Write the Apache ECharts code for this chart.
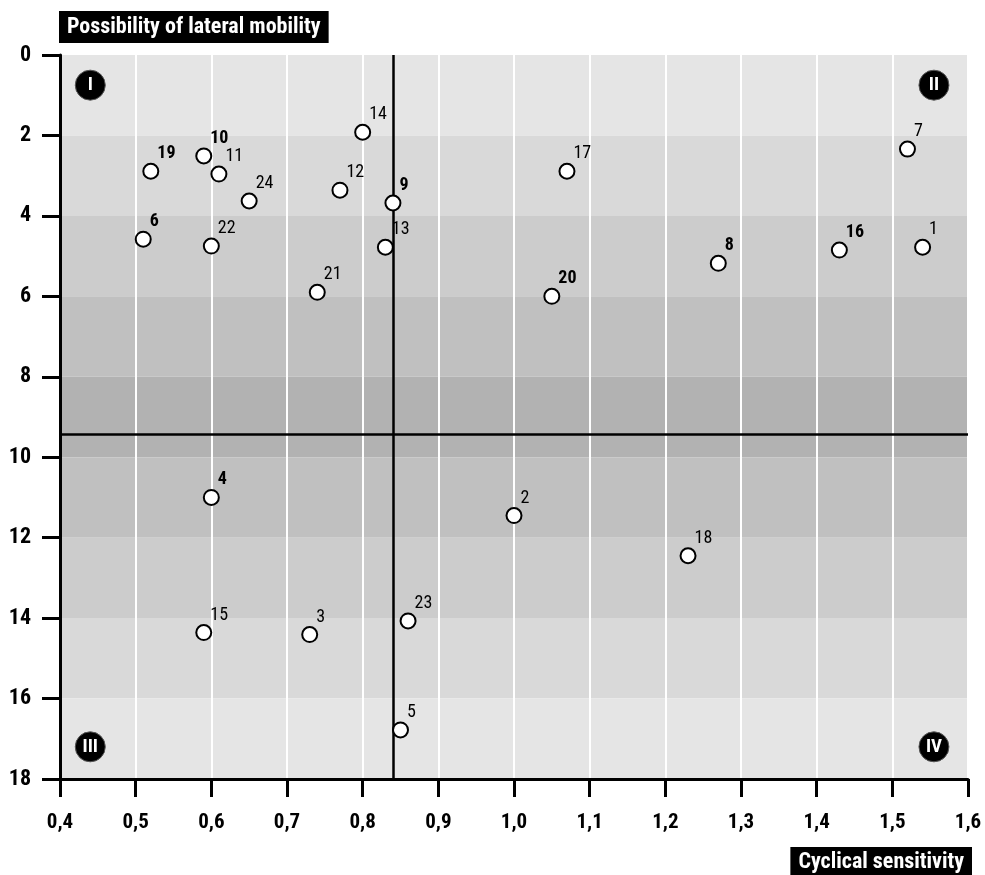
<!DOCTYPE html>
<html>
<head>
<meta charset="utf-8">
<script src="https://cdn.jsdelivr.net/npm/echarts@6/dist/echarts.min.js"></script>
<style>
html,body{margin:0;padding:0;background:#fff;}
#chart{width:985px;height:875px;}
</style>
</head>
<body>
<div id="chart"></div>
<script>
// ---- data ----
const ids = ['1','2','3','4','5','6','7','8','9','10','11','12','13','14','15','16','17','18','19','20','21','22','23','24'];
const cyclical = [1.54, 1.00, 0.73, 0.60, 0.85, 0.51, 1.52, 1.27, 0.84, 0.59, 0.61, 0.77, 0.83, 0.80, 0.59, 1.43, 1.07, 1.23, 0.52, 1.05, 0.74, 0.60, 0.86, 0.65];
const lateral  = [4.78, 11.45, 14.41, 11.0, 16.78, 4.58, 2.34, 5.18, 3.68, 2.51, 2.96, 3.36, 4.78, 1.92, 14.36, 4.85, 2.89, 12.45, 2.89, 6.0, 5.9, 4.75, 14.07, 3.63];
const bandEdges = [0, 2, 4, 6, 8, 10, 12, 14, 16, 18];
const quadrantNames = ['I', 'II', 'III', 'IV'];
const quadrantX = [0.44, 1.555, 0.44, 1.555];
const quadrantY = [0.75, 0.75, 17.2, 17.2];
const medianX = 0.84;
const medianY = 9.43;
const xTicks = ['0,4','0,5','0,6','0,7','0,8','0,9','1,0','1,1','1,2','1,3','1,4','1,5','1,6'];
const yTicks = ['0','2','4','6','8','10','12','14','16','18'];

// ---- styles ----
const FONT = '"Roboto Condensed", "Liberation Sans Narrow", "DejaVu Sans Condensed", sans-serif';
const bandColors = ['#e5e5e5','#d9d9d9','#cccccc','#c0c0c0','#b2b2b2','#c0c0c0','#cccccc','#d9d9d9','#e5e5e5'];
const boldIds = new Set(['4','6','8','9','10','16','19','20']);

const bands = [];
for (let i = 0; i < bandEdges.length - 1; i++) {
  bands.push([{ yAxis: bandEdges[i], itemStyle: { color: bandColors[i], opacity: 1 } }, { yAxis: bandEdges[i + 1] }]);
}

const points = ids.map((id, i) => ({
  value: [cyclical[i], lateral[i]],
  name: id,
  label: { fontWeight: boldIds.has(id) ? 'bold' : 'normal' }
}));

const quads = quadrantNames.map((n, i) => ({ value: [quadrantX[i], quadrantY[i]], name: n }));

const chart = echarts.init(document.getElementById('chart'));
chart.setOption({
  animation: false,
  backgroundColor: '#fff',
  textStyle: { fontFamily: FONT },
  title: [
    {
      text: 'Possibility of lateral mobility',
      left: 59, top: 11,
      backgroundColor: '#000',
      padding: [5, 8, 5, 8],
      textStyle: { color: '#fff', fontFamily: FONT, fontWeight: 'bold', fontSize: 22, lineHeight: 22 }
    },
    {
      text: 'Cyclical sensitivity',
      right: 13, top: 847,
      backgroundColor: '#000',
      padding: [4, 8, 6, 8],
      textStyle: { color: '#fff', fontFamily: FONT, fontWeight: 'bold', fontSize: 22, lineHeight: 22 }
    }
  ],
  grid: { left: 60, right: 17, top: 55, bottom: 96, containLabel: false },
  xAxis: {
    type: 'value', min: 0.4, max: 1.6, interval: 0.1, z: 1.5,
    axisLine: { show: true, onZero: false, lineStyle: { color: '#000', width: 3 } },
    axisTick: { show: true, inside: false, length: 18, lineStyle: { color: '#000', width: 3 } },
    splitLine: { show: true, lineStyle: { color: '#fff', width: 2 } },
    axisLabel: {
      margin: 33, color: '#000', fontFamily: FONT, fontWeight: 'bold', fontSize: 21,
      formatter: (v) => xTicks[Math.round((v - 0.4) * 10)]
    }
  },
  yAxis: {
    type: 'value', inverse: true, min: 0, max: 18, interval: 2, z: 1.5,
    axisLine: { show: true, onZero: false, lineStyle: { color: '#000', width: 3 } },
    axisTick: { show: true, inside: false, length: 18, lineStyle: { color: '#000', width: 3 } },
    splitLine: { show: false },
    axisLabel: {
      margin: 29, color: '#000', fontFamily: FONT, fontWeight: 'bold', fontSize: 22,
      formatter: (v) => yTicks[Math.round(v / 2)]
    }
  },
  series: [
    {
      type: 'scatter', z: 1, silent: true, data: [],
      markArea: { silent: true, data: bands }
    },
    {
      type: 'scatter', z: 3, silent: true, data: [],
      markLine: {
        silent: true, symbol: 'none', label: { show: false },
        lineStyle: { color: '#000', width: 2.5, type: 'solid', opacity: 1 },
        data: [{ xAxis: medianX }, { yAxis: medianY }]
      }
    },
    {
      type: 'scatter', z: 5, data: points,
      symbol: 'circle', symbolSize: 15,
      itemStyle: { color: '#fff', borderColor: '#000', borderWidth: 2, opacity: 1 },
      label: {
        show: true, formatter: '{b}', position: [15, -18],
        color: '#000', fontFamily: FONT, fontSize: 18
      }
    },
    {
      type: 'scatter', z: 5, data: quads,
      symbol: 'circle', symbolSize: 30,
      itemStyle: { color: '#000', borderColor: '#555', borderWidth: 1, opacity: 1 },
      label: {
        show: true, formatter: '{b}', position: 'inside',
        color: '#fff', fontFamily: FONT, fontWeight: 'bold', fontSize: 19
      }
    }
  ]
});
</script>
</body>
</html>
